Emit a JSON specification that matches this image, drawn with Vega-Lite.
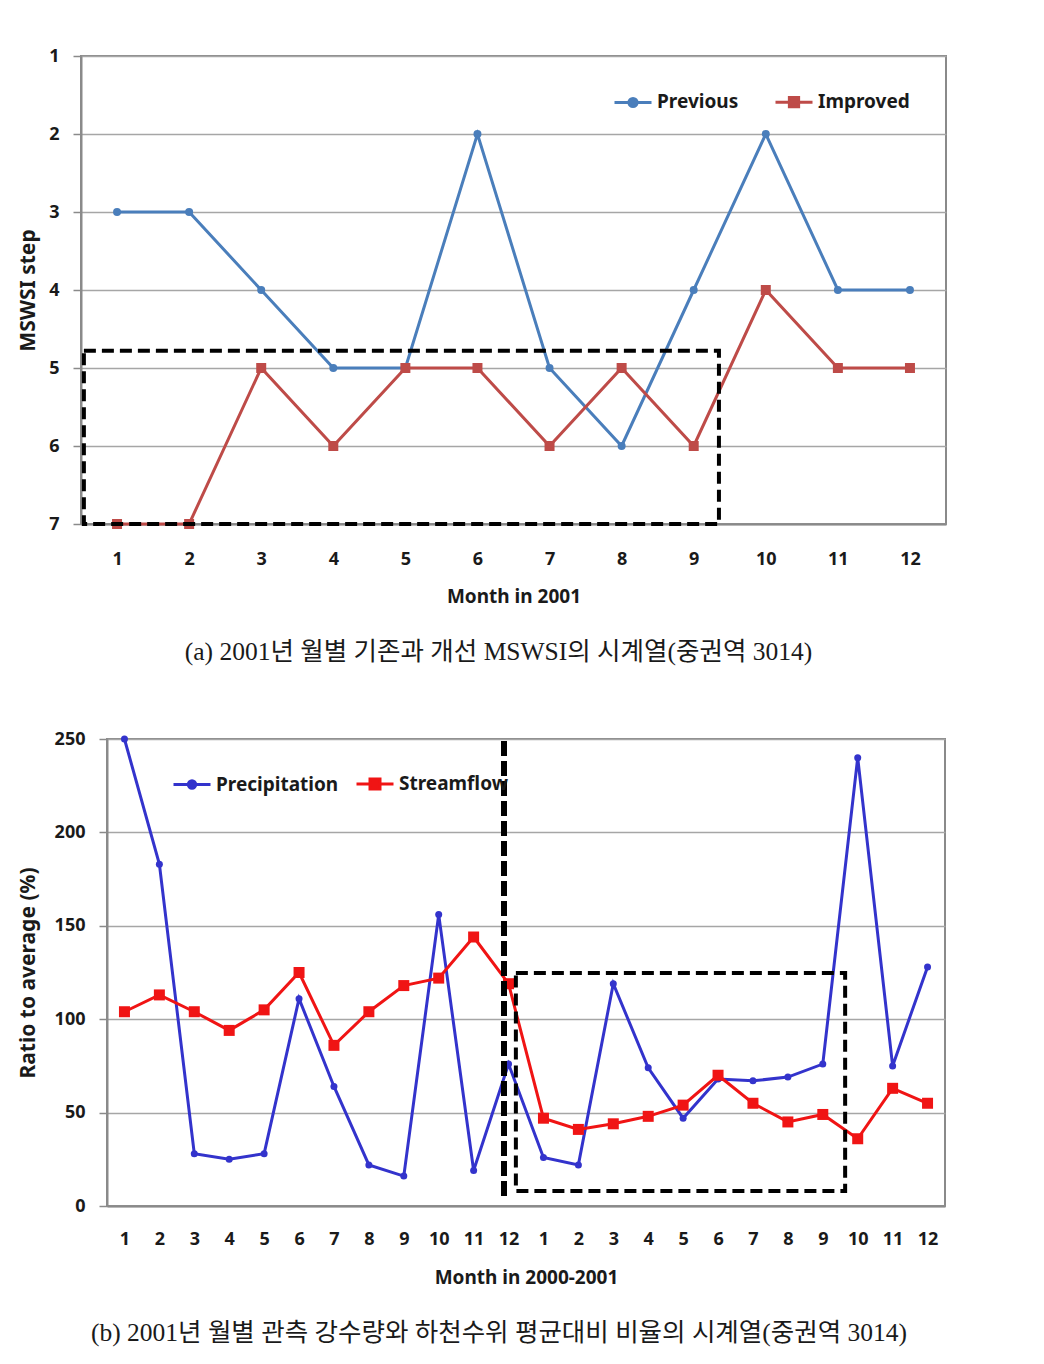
{
  "$schema": "https://vega.github.io/schema/vega-lite/v6.json",
  "padding": {"left": 15, "top": 46, "right": 5, "bottom": 5},
  "background": "white",
  "config": {
    "font": "Noto Sans",
    "view": {"stroke": null},
    "axis": {
      "labelFont": "Noto Sans", "labelFontWeight": "bold", "labelFontSize": 18, "labelColor": "#1a1a1a",
      "titleFont": "Noto Sans", "titleFontWeight": "bold", "titleFontSize": 19, "titleColor": "#1a1a1a",
      "domainColor": "#8a8a8a", "domainWidth": 2, "tickColor": "#8a8a8a", "tickWidth": 1.5,
      "gridColor": "#a6a6a6", "gridWidth": 1.5, "labelOverlap": false, "format": "d"
    },
    "axisY": {"titleFontSize": 21},
    "legend": {
      "labelFont": "Noto Sans", "labelFontWeight": "bold", "labelFontSize": 19, "labelColor": "#1a1a1a",
      "symbolStrokeWidth": 3, "symbolSize": 1369, "labelOffset": 4
    }
  },
  "datasets": {
    "a": [
      {"month": 1, "series": "Previous", "value": 3},
      {"month": 2, "series": "Previous", "value": 3},
      {"month": 3, "series": "Previous", "value": 4},
      {"month": 4, "series": "Previous", "value": 5},
      {"month": 5, "series": "Previous", "value": 5},
      {"month": 6, "series": "Previous", "value": 2},
      {"month": 7, "series": "Previous", "value": 5},
      {"month": 8, "series": "Previous", "value": 6},
      {"month": 9, "series": "Previous", "value": 4},
      {"month": 10, "series": "Previous", "value": 2},
      {"month": 11, "series": "Previous", "value": 4},
      {"month": 12, "series": "Previous", "value": 4},
      {"month": 1, "series": "Improved", "value": 7},
      {"month": 2, "series": "Improved", "value": 7},
      {"month": 3, "series": "Improved", "value": 5},
      {"month": 4, "series": "Improved", "value": 6},
      {"month": 5, "series": "Improved", "value": 5},
      {"month": 6, "series": "Improved", "value": 5},
      {"month": 7, "series": "Improved", "value": 6},
      {"month": 8, "series": "Improved", "value": 5},
      {"month": 9, "series": "Improved", "value": 6},
      {"month": 10, "series": "Improved", "value": 4},
      {"month": 11, "series": "Improved", "value": 5},
      {"month": 12, "series": "Improved", "value": 5}
    ],
    "b": [
      {"idx": 1, "series": "Precipitation", "value": 250},
      {"idx": 2, "series": "Precipitation", "value": 183},
      {"idx": 3, "series": "Precipitation", "value": 28},
      {"idx": 4, "series": "Precipitation", "value": 25},
      {"idx": 5, "series": "Precipitation", "value": 28},
      {"idx": 6, "series": "Precipitation", "value": 111},
      {"idx": 7, "series": "Precipitation", "value": 64},
      {"idx": 8, "series": "Precipitation", "value": 22},
      {"idx": 9, "series": "Precipitation", "value": 16},
      {"idx": 10, "series": "Precipitation", "value": 156},
      {"idx": 11, "series": "Precipitation", "value": 19},
      {"idx": 12, "series": "Precipitation", "value": 76},
      {"idx": 13, "series": "Precipitation", "value": 26},
      {"idx": 14, "series": "Precipitation", "value": 22},
      {"idx": 15, "series": "Precipitation", "value": 119},
      {"idx": 16, "series": "Precipitation", "value": 74},
      {"idx": 17, "series": "Precipitation", "value": 47},
      {"idx": 18, "series": "Precipitation", "value": 68},
      {"idx": 19, "series": "Precipitation", "value": 67},
      {"idx": 20, "series": "Precipitation", "value": 69},
      {"idx": 21, "series": "Precipitation", "value": 76},
      {"idx": 22, "series": "Precipitation", "value": 240},
      {"idx": 23, "series": "Precipitation", "value": 75},
      {"idx": 24, "series": "Precipitation", "value": 128},
      {"idx": 1, "series": "Streamflow", "value": 104},
      {"idx": 2, "series": "Streamflow", "value": 113},
      {"idx": 3, "series": "Streamflow", "value": 104},
      {"idx": 4, "series": "Streamflow", "value": 94},
      {"idx": 5, "series": "Streamflow", "value": 105},
      {"idx": 6, "series": "Streamflow", "value": 125},
      {"idx": 7, "series": "Streamflow", "value": 86},
      {"idx": 8, "series": "Streamflow", "value": 104},
      {"idx": 9, "series": "Streamflow", "value": 118},
      {"idx": 10, "series": "Streamflow", "value": 122},
      {"idx": 11, "series": "Streamflow", "value": 144},
      {"idx": 12, "series": "Streamflow", "value": 119},
      {"idx": 13, "series": "Streamflow", "value": 47},
      {"idx": 14, "series": "Streamflow", "value": 41},
      {"idx": 15, "series": "Streamflow", "value": 44},
      {"idx": 16, "series": "Streamflow", "value": 48},
      {"idx": 17, "series": "Streamflow", "value": 54},
      {"idx": 18, "series": "Streamflow", "value": 70},
      {"idx": 19, "series": "Streamflow", "value": 55},
      {"idx": 20, "series": "Streamflow", "value": 45},
      {"idx": 21, "series": "Streamflow", "value": 49},
      {"idx": 22, "series": "Streamflow", "value": 36},
      {"idx": 23, "series": "Streamflow", "value": 63},
      {"idx": 24, "series": "Streamflow", "value": 55}
    ],
    "boxA": [{"month": 0.54, "month2": 9.35, "value": 4.78, "value2": 7}],
    "boxB": [{"idx": 12.21, "idx2": 21.64, "value": 8, "value2": 124.7}],
    "ruleB": [{"idx": 11.87, "value": 5.4, "value2": 250}],
    "empty": []
  },
  "spacing": 62,
  "resolve": {"scale": {"color": "independent", "x": "independent", "y": "independent"}, "legend": {"color": "independent"}},
  "vconcat": [
    {
      "spacing": 0,
      "hconcat": [
        {"width": 1, "height": 1, "data": {"name": "empty"}, "mark": "point"},
        {
          "width": 865,
          "height": 468,
          "view": {"stroke": "#8a8a8a", "strokeWidth": 2},
          "title": {
            "text": "(a) 2001년 월별 기존과 개선 MSWSI의 시계열(중권역 3014)",
            "orient": "bottom", "frame": "group", "anchor": "middle", "dx": -15, "offset": 34,
            "font": "Liberation Serif, Noto Sans CJK KR", "fontSize": 25.5, "fontWeight": "normal", "color": "#1a1a1a"
          },
          "encoding": {
            "x": {"field": "month", "type": "quantitative",
                  "scale": {"domain": [0.5, 12.5], "nice": false, "zero": false},
                  "axis": {"title": "Month in 2001", "values": [1,2,3,4,5,6,7,8,9,10,11,12], "grid": false, "ticks": false, "labelPadding": 26, "titlePadding": 19, "labelFlush": false, "labelOverlap": false}},
            "y": {"field": "value", "type": "quantitative",
                  "scale": {"domain": [1, 7], "reverse": true, "nice": false, "zero": false},
                  "axis": {"title": "MSWSI step", "values": [1,2,3,4,5,6,7], "grid": true, "tickSize": 8, "labelPadding": 14, "titlePadding": 10}}
          },
          "layer": [
            {
              "data": {"name": "a"},
              "mark": {"type": "line", "strokeWidth": 3},
              "encoding": {
                "color": {"field": "series", "type": "nominal",
                          "scale": {"domain": ["Previous", "Improved"], "range": ["#4A7EBB", "#BE4B48"]},
                          "legend": {
                            "title": null, "orient": "none", "legendX": 598, "legendY": 26, "direction": "horizontal",
                            "columnPadding": 30,
                            "encode": {"symbols": {"update": {
                              "shape": {"signal": "datum.value === 'Previous' ? 'M-1,0H1M-0.22,0A0.22,0.22,0,1,0,0.22,0A0.22,0.22,0,1,0,-0.22,0Z' : 'M-1,0H1M-0.25,-0.25H0.25V0.25H-0.25Z'"},
                              "fill": {"signal": "datum.value === 'Previous' ? '#4A7EBB' : '#BE4B48'"},
                              "stroke": {"signal": "datum.value === 'Previous' ? '#4A7EBB' : '#BE4B48'"},
                              "strokeWidth": {"value": 3},
                              "opacity": {"value": 1}
                            }}}
                          }}
              }
            },
            {
              "data": {"name": "a"},
              "transform": [{"filter": "datum.series === 'Previous'"}],
              "mark": {"type": "point", "filled": true, "opacity": 1, "shape": "circle", "size": 64, "color": "#4A7EBB"},
              "encoding": {}
            },
            {
              "data": {"name": "a"},
              "transform": [{"filter": "datum.series === 'Improved'"}],
              "mark": {"type": "point", "filled": true, "opacity": 1, "shape": "square", "size": 100, "color": "#BE4B48"},
              "encoding": {}
            },
            {
              "data": {"name": "boxA"},
              "mark": {"type": "rect", "filled": false, "stroke": "black", "strokeWidth": 4, "strokeDash": [12, 6]},
              "encoding": {
                "x2": {"field": "month2"},
                "y2": {"field": "value2"}
              }
            }
          ]
        }
      ]
    },
    {
      "spacing": 0,
      "hconcat": [
        {"width": 1, "height": 1, "data": {"name": "empty"}, "mark": "point"},
        {
          "width": 838,
          "height": 467,
          "view": {"stroke": "#8a8a8a", "strokeWidth": 2},
          "title": {
            "text": "(b) 2001년 월별 관측 강수량와 하천수위 평균대비 비율의 시계열(중권역 3014)",
            "orient": "bottom", "frame": "group", "anchor": "middle", "dx": -27, "offset": 34,
            "font": "Liberation Serif, Noto Sans CJK KR", "fontSize": 25.5, "fontWeight": "normal", "color": "#1a1a1a"
          },
          "encoding": {
            "x": {"field": "idx", "type": "quantitative",
                  "scale": {"domain": [0.5, 24.5], "nice": false, "zero": false},
                  "axis": {"title": "Month in 2000-2001", "values": [1,2,3,4,5,6,7,8,9,10,11,12,13,14,15,16,17,18,19,20,21,22,23,24],
                           "labelExpr": "datum.value > 12 ? '' + (datum.value - 12) : '' + datum.value",
                           "grid": false, "ticks": false, "labelPadding": 24, "titlePadding": 20, "labelFlush": false, "labelOverlap": false}},
            "y": {"field": "value", "type": "quantitative",
                  "scale": {"domain": [0, 250], "nice": false},
                  "axis": {"title": "Ratio to average (%)", "values": [0, 50, 100, 150, 200, 250], "grid": true, "tickSize": 8, "labelPadding": 14, "titlePadding": 16}}
          },
          "layer": [
            {
              "data": {"name": "b"},
              "mark": {"type": "line", "strokeWidth": 3},
              "encoding": {
                "color": {"field": "series", "type": "nominal",
                          "scale": {"domain": ["Precipitation", "Streamflow"], "range": ["#3333CC", "#F01414"]},
                          "legend": {
                            "title": null, "orient": "none", "legendX": 157, "legendY": 25, "direction": "horizontal",
                            "columnPadding": 11,
                            "encode": {"symbols": {"update": {
                              "shape": {"signal": "datum.value === 'Precipitation' ? 'M-1,0H1M-0.2,0A0.2,0.2,0,1,0,0.2,0A0.2,0.2,0,1,0,-0.2,0Z' : 'M-1,0H1M-0.27,-0.27H0.27V0.27H-0.27Z'"},
                              "fill": {"signal": "datum.value === 'Precipitation' ? '#3333CC' : '#F01414'"},
                              "stroke": {"signal": "datum.value === 'Precipitation' ? '#3333CC' : '#F01414'"},
                              "strokeWidth": {"value": 3},
                              "opacity": {"value": 1}
                            }}}
                          }}
              }
            },
            {
              "data": {"name": "b"},
              "transform": [{"filter": "datum.series === 'Precipitation'"}],
              "mark": {"type": "point", "filled": true, "opacity": 1, "shape": "circle", "size": 49, "color": "#3333CC"},
              "encoding": {}
            },
            {
              "data": {"name": "b"},
              "transform": [{"filter": "datum.series === 'Streamflow'"}],
              "mark": {"type": "point", "filled": true, "opacity": 1, "shape": "square", "size": 121, "color": "#F01414"},
              "encoding": {}
            },
            {
              "data": {"name": "ruleB"},
              "mark": {"type": "rule", "stroke": "black", "strokeWidth": 6, "strokeDash": [15, 5]},
              "encoding": {
                "y2": {"field": "value2"}
              }
            },
            {
              "data": {"name": "boxB"},
              "mark": {"type": "rect", "filled": false, "stroke": "black", "strokeWidth": 4, "strokeDash": [12, 6]},
              "encoding": {
                "x2": {"field": "idx2"},
                "y2": {"field": "value2"}
              }
            }
          ]
        }
      ]
    }
  ]
}
